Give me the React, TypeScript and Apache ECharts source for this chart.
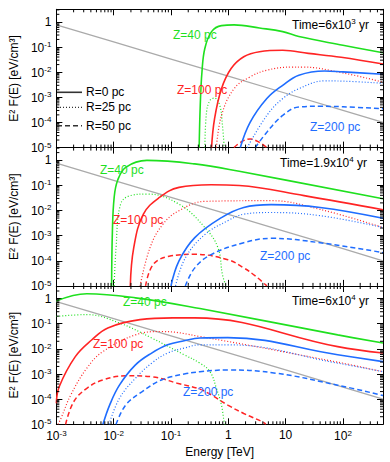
import React, { useEffect, useRef } from 'react';
import * as echarts from 'echarts';

// ---------- data ----------
const xMajorTicks = [1e-3, 1e-2, 1e-1, 1, 10, 100];
const yMajorTicks = [1e-5, 1e-4, 1e-3, 1e-2, 1e-1, 1];
const minorMultipliers = [2, 3, 4, 5, 6, 7, 8, 9];
const timeLabels = [
  ['Time=6x10', '3', ' yr'],
  ['Time=1.9x10', '4', ' yr'],
  ['Time=6x10', '4', ' yr'],
];
const zLabels = ['Z=40 pc', 'Z=100 pc', 'Z=200 pc'];
const legendLabels = ['R=0 pc', 'R=25 pc', 'R=50 pc'];

// gray reference line (same in all panels)
const grayLine = [[1e-3, 0.76], [1e-2, 0.159], [0.1, 0.0332], [1, 0.00694], [10, 0.00145], [100, 3.03e-4], [500, 1.0e-4]];

// Panel 1 : Time = 6x10^3 yr
const p1Green0 = [[0.31, 1e-5], [0.324, 4.8e-4], [0.347, 0.0102], [0.39, 0.089], [0.51, 0.41], [0.76, 0.71], [1.26, 0.76], [3.5, 0.57], [8.9, 0.41], [17, 0.26], [100, 0.118], [500, 0.059]];
const p1Green25 = [[0.39, 1e-5], [0.417, 2.6e-4], [0.48, 7.6e-4], [0.575, 9.3e-4], [0.71, 4.8e-4], [0.79, 7.6e-5], [0.85, 1e-5]];
const p1Red0 = [[0.51, 1e-5], [0.575, 1.4e-4], [0.76, 2.2e-3], [1.12, 0.014], [1.86, 0.041], [3.5, 0.065], [8.9, 0.074], [25, 0.056], [93, 0.039], [500, 0.021]];
const p1Red25 = [[0.62, 1e-5], [0.76, 1.9e-4], [1.26, 2.2e-3], [2.4, 6.5e-3], [4.7, 0.012], [13, 0.016], [19, 0.016], [100, 0.0093], [500, 0.004]];
const p1Red50 = [[1.26, 1e-5], [1.62, 1.6e-5], [2.4, 2.2e-5], [3.5, 1.6e-5], [4.7, 1e-5]];
const p1Blue0 = [[1.62, 1e-5], [2.4, 1.0e-4], [4.7, 8.9e-4], [8.9, 3.0e-3], [17, 7.6e-3], [48, 0.0112], [100, 0.0103], [500, 0.0083]];
const p1Blue25 = [[2.14, 1e-5], [4.7, 1.9e-4], [8.9, 8.9e-4], [17, 2.2e-3], [48, 4.5e-3], [100, 4.4e-3], [500, 3.6e-3]];
const p1Blue50 = [[2.95, 1e-5], [4.7, 4.1e-5], [8.9, 1.9e-4], [17, 4.1e-4], [40, 4.4e-4], [100, 4.2e-4], [500, 3.5e-4]];

// Panel 2 : Time = 1.9x10^4 yr
const p2Green0 = [[0.0092, 1e-5], [0.0095, 1.5e-3], [0.0102, 0.033], [0.0117, 0.155], [0.0162, 0.52], [0.038, 0.98], [0.26, 0.71], [1.55, 0.36], [500, 0.029]];
const p2Green25 = [[0.0102, 1e-5], [0.011, 3.3e-4], [0.0132, 0.0178], [0.0195, 0.039], [0.038, 0.045], [0.138, 0.0178], [0.39, 2.1e-3], [0.66, 3.3e-4], [0.79, 2.8e-5], [0.91, 1e-5]];
const p2Red0 = [[0.0195, 1e-5], [0.0224, 3.3e-4], [0.033, 7.1e-3], [0.063, 0.033], [0.138, 0.083], [0.5, 0.105], [1.55, 0.098], [21, 0.039], [500, 0.0107]];
const p2Red25 = [[0.029, 1e-5], [0.043, 3.3e-4], [0.072, 2.8e-3], [0.138, 9.8e-3], [0.39, 0.023], [5.6, 0.0245], [40, 0.011], [500, 2.1e-3]];
const p2Red50 = [[0.036, 1e-5], [0.049, 7.1e-5], [0.093, 1.5e-4], [0.26, 1.8e-4], [0.98, 1.1e-4], [1.86, 5.2e-5], [2.95, 2.5e-5], [4.7, 1e-5]];
const p2Blue0 = [[0.1, 1e-5], [0.138, 9.8e-5], [0.26, 8.3e-4], [0.76, 5.2e-3], [1.86, 0.0132], [5.6, 0.017], [40, 0.0132], [500, 4.9e-3]];
const p2Blue25 = [[0.12, 1e-5], [0.178, 1.3e-4], [0.39, 1.1e-3], [0.98, 3.9e-3], [1.86, 7.1e-3], [5.6, 8.3e-3], [40, 6.2e-3], [500, 2.1e-3]];
const p2Blue50 = [[0.178, 1e-5], [0.26, 5.2e-5], [0.51, 1.8e-4], [1.86, 5.2e-4], [5.6, 7.8e-4], [40, 5.2e-4], [500, 2.1e-4]];

// Panel 3 : Time = 6x10^4 yr
const p3Green0 = [[0.001, 0.8], [0.0034, 1.55], [0.024, 1.07], [0.32, 0.4], [81, 0.036], [500, 0.017]];
const p3Green25 = [[0.001, 0.195], [0.0034, 0.23], [0.0126, 0.107], [0.046, 0.027], [0.17, 5.8e-3], [0.32, 2.7e-3], [0.48, 1.23e-3], [0.62, 2.7e-4], [0.76, 5.8e-5], [0.85, 1.2e-5], [0.89, 1e-5]];
const p3Red0 = [[0.001, 6.8e-5], [0.00112, 3.1e-4], [0.00214, 4.9e-3], [0.00417, 0.023], [0.0079, 0.068], [0.0288, 0.145], [0.107, 0.17], [0.26, 0.17], [81, 0.0123], [500, 6.8e-3]];
const p3Red25 = [[0.00107, 1e-5], [0.0012, 1.7e-5], [0.00178, 1.45e-4], [0.0034, 1.7e-3], [0.0065, 7.8e-3], [0.024, 0.036], [0.068, 0.049], [0.32, 0.031], [81, 2.95e-3], [500, 1.23e-3]];
const p3Red50 = [[0.00145, 1e-5], [0.002, 7.8e-5], [0.0034, 2.7e-4], [0.0065, 5.8e-4], [0.0162, 8.5e-4], [0.046, 7.8e-4], [0.129, 4.3e-4], [0.32, 2.5e-4], [0.51, 1.45e-4], [0.98, 5.8e-5], [1.86, 2.7e-5], [4.1, 1.2e-5], [4.5, 1e-5]];
const p3Blue0 = [[0.0065, 1e-5], [0.0085, 5.8e-5], [0.0126, 3.6e-4], [0.024, 2.3e-3], [0.046, 6.8e-3], [0.087, 0.0145], [0.17, 0.021], [0.32, 0.027], [0.98, 0.028], [81, 5.8e-3], [500, 3.1e-3]];
const p3Blue25 = [[0.0083, 1e-5], [0.0126, 1.07e-4], [0.024, 6.8e-4], [0.046, 2.7e-3], [0.087, 6.8e-3], [0.17, 0.0107], [0.32, 0.0145], [0.98, 0.0145], [81, 2.7e-3], [500, 1.23e-3]];
const p3Blue50 = [[0.011, 1e-5], [0.0162, 5.8e-5], [0.031, 1.95e-4], [0.068, 5.8e-4], [0.17, 1e-3], [0.32, 1.23e-3], [0.98, 1.45e-3], [6.9, 1.07e-3], [81, 3.6e-4], [500, 1.4e-4]];

const panels = [
  { green: [p1Green0, p1Green25], red: [p1Red0, p1Red25, p1Red50], blue: [p1Blue0, p1Blue25, p1Blue50] },
  { green: [p2Green0, p2Green25], red: [p2Red0, p2Red25, p2Red50], blue: [p2Blue0, p2Blue25, p2Blue50] },
  { green: [p3Green0, p3Green25], red: [p3Red0, p3Red25, p3Red50], blue: [p3Blue0, p3Blue25, p3Blue50] },
];

// ---------- layout / style ----------
const X_MIN = 1e-3, X_MAX = 500, Y_MIN = 1e-5, Y_MAX = 3.162;
const LEFT = 47, WIDTH = 336, GRID_H = 138.3;
const GRID_TOPS = [9.3, 147.6, 286];
const GREEN = '#1fe01f', RED = '#ff2424', BLUE = '#1f6dff', GRAY = '#aaaaaa';
const FONT = 'Liberation Sans, Arial, Helvetica, sans-serif';
const FS = 12;

// label positions (pixels)
const zLabelPos = [
  [[173, 35], [177, 90], [310, 127]],
  [[100, 170], [113, 220], [260, 256]],
  [[123, 302], [93, 344], [183, 392]],
];
const timePos = [[292, 24], [280, 162], [292, 300]];

const richStyles = {
  p: { fontSize: FS, fontFamily: FONT, color: '#000' },
  b: { fontSize: FS, fontFamily: FONT, color: '#000', lineHeight: 13, padding: [5, 0, 0, 0], verticalAlign: 'bottom' },
  s: { fontSize: 8, fontFamily: FONT, color: '#000', lineHeight: 9, verticalAlign: 'top' },
};

function powLabel(v: number) {
  const lg = Math.log10(v);
  const k = Math.round(lg);
  if (Math.abs(lg - k) > 1e-6) return '';
  if (k === 0) return '{p|1}';
  if (k === 1) return '{p|10}';
  return `{b|10}{s|${k}}`;
}

function lineType(kind: number) {
  if (kind === 0) return { width: 1.6, type: 'solid' };
  if (kind === 1) return { width: 1.2, type: [1, 2] };
  return { width: 1.5, type: [5, 3] };
}

export default function App() {
  const ref = useRef<HTMLDivElement>(null);
  useEffect(() => {
    if (!ref.current) return;
    const chart = echarts.init(ref.current, null, { renderer: 'svg' });

    const grids: any[] = [];
    const xAxes: any[] = [];
    const yAxes: any[] = [];
    const series: any[] = [];
    const graphics: any[] = [];

    const xMinor: number[][] = [];
    xMajorTicks.forEach((d) => minorMultipliers.forEach((m) => { const v = d * m; if (v < X_MAX) xMinor.push([v, 1e-3]); }));
    const yMinor: number[][] = [];
    yMajorTicks.forEach((d) => minorMultipliers.forEach((m) => { const v = d * m; if (v < Y_MAX) yMinor.push([0.01, v]); }));

    panels.forEach((pan, i) => {
      grids.push({ left: LEFT, top: GRID_TOPS[i], width: WIDTH, height: GRID_H, show: false });
      const axisLine = { show: true, lineStyle: { color: '#000', width: 1 } };
      const tick = { show: true, inside: true, length: 6, lineStyle: { color: '#000', width: 1 } };
      xAxes.push({
        type: 'log', gridIndex: i, min: X_MIN, max: X_MAX, position: 'bottom', logBase: 10,
        axisLine, axisTick: tick, splitLine: { show: false }, minorTick: { show: false },
        axisLabel: {
          show: i === 2, margin: 5, formatter: powLabel, rich: richStyles, showMaxLabel: false,
        },
        name: i === 2 ? 'Energy [TeV]' : '', nameLocation: 'middle', nameGap: 22,
        nameTextStyle: { fontSize: FS, fontFamily: FONT, color: '#000' },
      });
      xAxes.push({
        type: 'log', gridIndex: i, min: X_MIN, max: X_MAX, position: 'top', logBase: 10,
        axisLine, axisTick: tick, splitLine: { show: false }, axisLabel: { show: false },
      });
      yAxes.push({
        type: 'log', gridIndex: i, min: Y_MIN, max: Y_MAX, position: 'left', logBase: 10,
        axisLine, axisTick: tick, splitLine: { show: false },
        axisLabel: { margin: 5, formatter: powLabel, rich: richStyles, showMaxLabel: false },
        name: 'E² F(E) [eV/cm³]', nameLocation: 'middle', nameRotate: 90, nameGap: 28,
        nameTextStyle: { fontSize: FS, fontFamily: FONT, color: '#000' },
      });
      yAxes.push({
        type: 'log', gridIndex: i, min: Y_MIN, max: Y_MAX, position: 'right', logBase: 10,
        axisLine, axisTick: tick, splitLine: { show: false }, axisLabel: { show: false },
      });

      const ax = i * 2;
      const base = { type: 'line', xAxisIndex: ax, yAxisIndex: ax, symbol: 'none', showSymbol: false, silent: true, clip: true, smooth: 0.4 };
      series.push({ ...base, data: grayLine, smooth: false, lineStyle: { color: GRAY, width: 1.3 }, z: 1 });
      pan.green.forEach((d, k) => series.push({ ...base, data: d, lineStyle: { color: GREEN, ...lineType(k) }, z: 3 }));
      pan.red.forEach((d, k) => series.push({ ...base, data: d, lineStyle: { color: RED, ...lineType(k) }, z: 3 }));
      pan.blue.forEach((d, k) => series.push({ ...base, data: d, lineStyle: { color: BLUE, ...lineType(k) }, z: 3 }));

      // minor ticks
      series.push({
        type: 'custom', xAxisIndex: ax, yAxisIndex: ax, silent: true, data: xMinor, z: 5,
        renderItem: (params: any, api: any) => {
          const cs = params.coordSys;
          const p = api.coord([api.value(0), api.value(1)]);
          const yb = cs.y + cs.height, yt = cs.y;
          return {
            type: 'group', children: [
              { type: 'line', shape: { x1: p[0], y1: yb, x2: p[0], y2: yb - 3 }, style: { stroke: '#000', lineWidth: 1 } },
              { type: 'line', shape: { x1: p[0], y1: yt, x2: p[0], y2: yt + 3 }, style: { stroke: '#000', lineWidth: 1 } },
            ],
          };
        },
      });
      series.push({
        type: 'custom', xAxisIndex: ax, yAxisIndex: ax, silent: true, data: yMinor, z: 5,
        renderItem: (params: any, api: any) => {
          const cs = params.coordSys;
          const p = api.coord([api.value(0), api.value(1)]);
          const xl = cs.x, xr = cs.x + cs.width;
          return {
            type: 'group', children: [
              { type: 'line', shape: { x1: xl, y1: p[1], x2: xl + 3, y2: p[1] }, style: { stroke: '#000', lineWidth: 1 } },
              { type: 'line', shape: { x1: xr, y1: p[1], x2: xr - 3, y2: p[1] }, style: { stroke: '#000', lineWidth: 1 } },
            ],
          };
        },
      });

      // text labels
      const colors = [GREEN, RED, BLUE];
      zLabels.forEach((t, k) => {
        graphics.push({
          type: 'text', x: zLabelPos[i][k][0], y: zLabelPos[i][k][1], z: 10,
          style: { text: t, fill: colors[k], fontSize: FS, fontFamily: FONT, verticalAlign: 'middle', align: 'left' },
        });
      });
      const tl = timeLabels[i];
      graphics.push({
        type: 'text', x: timePos[i][0], y: timePos[i][1], z: 10,
        style: {
          text: `{b|${tl[0]}}{s|${tl[1]}}{b|${tl[2]}}`, rich: richStyles,
          verticalAlign: 'middle', align: 'left',
        },
      });
    });

    // legend in panel 1
    const legendY = [92.3, 107.3, 125.7];
    legendLabels.forEach((t, k) => {
      const lt = lineType(k);
      graphics.push({
        type: 'line', z: 10,
        shape: { x1: 57, y1: legendY[k], x2: 82, y2: legendY[k] },
        style: { stroke: '#333', lineWidth: lt.width, lineDash: k === 0 ? null : lt.type },
      });
      graphics.push({
        type: 'text', x: 86, y: legendY[k], z: 10,
        style: { text: t, fill: '#000', fontSize: FS, fontFamily: FONT, verticalAlign: 'middle', align: 'left' },
      });
    });

    chart.setOption({
      animation: false,
      backgroundColor: '#fff',
      grid: grids,
      xAxis: xAxes,
      yAxis: yAxes,
      series,
      graphic: graphics,
    });
    return () => chart.dispose();
  }, []);
  return <div ref={ref} style={{ position: 'fixed', left: 0, top: 0, width: 390, height: 462, background: '#fff' }} />;
}
